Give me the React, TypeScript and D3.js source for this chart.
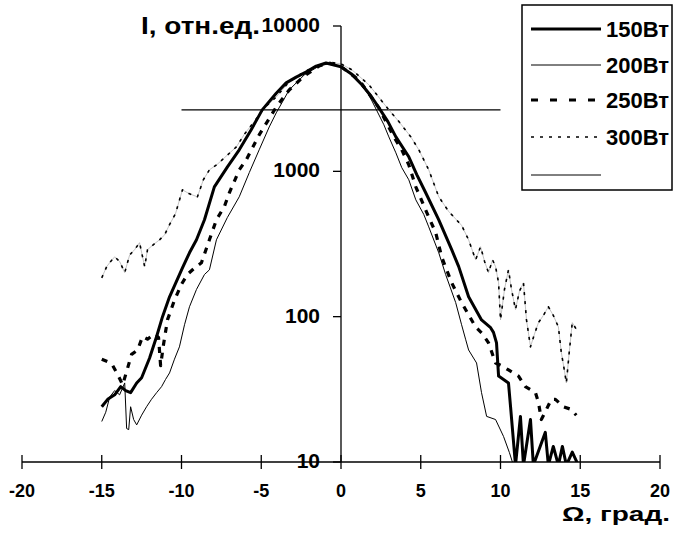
import React from 'react';
import * as d3 from 'd3';

// ---- data (Ω in degrees, I in relative units) ----
const xTicks = [-20, -15, -10, -5, 0, 5, 10, 15, 20];
const yTicks = [10, 100, 1000, 10000];
const legendLabels = ['150Вт', '200Вт', '250Вт', '300Вт', ''];
const halfLevel = 2650;
const halfRange = [-10, 10];

const s150: [number, number][] = [
  [-15, 24], [-14.63, 27], [-14.19, 29], [-13.81, 33], [-13.5, 31], [-13.19, 30], [-12.81, 35],
  [-12.5, 38], [-12.0, 52], [-11.56, 73], [-11.19, 100], [-10.75, 137], [-9.94, 217], [-9.5, 275],
  [-9.06, 338], [-8.56, 464], [-7.94, 782], [-7.13, 1070], [-6.38, 1406], [-5.63, 1930],
  [-4.94, 2647], [-4.06, 3450], [-3.44, 4060], [-2.81, 4450], [-2.19, 4820], [-1.56, 5300],
  [-0.94, 5570], [0, 5250], [0.63, 4700], [1.31, 3940], [1.88, 3300], [2.38, 2730], [2.94, 2200],
  [3.44, 1726], [4.25, 1259], [4.75, 950], [5.31, 712], [6.13, 464], [6.94, 289], [7.38, 221],
  [8.0, 137], [8.81, 95], [9.38, 84], [9.56, 78], [9.75, 66], [9.88, 39], [10.19, 37], [10.5, 35],
  [10.63, 24], [10.94, 9.5], [11.25, 20.6], [11.44, 9.5], [11.88, 19.6], [12.06, 9.5], [12.81, 16],
  [13.0, 9.5], [13.31, 12.8], [13.63, 9.5], [13.88, 12.8], [14.13, 9.5], [14.5, 11.7], [14.88, 9.5],
];

const s200: [number, number][] = [
  [-15, 19], [-14.75, 22], [-14.5, 28], [-14.19, 31], [-13.88, 29], [-13.56, 35], [-13.44, 17],
  [-13.31, 16.7], [-13.19, 24], [-13.0, 19.6], [-12.81, 18], [-12.5, 21], [-12.19, 24], [-11.88, 27],
  [-11.56, 30], [-11.25, 33], [-11.0, 37], [-10.75, 41], [-10.44, 51], [-10.13, 62], [-9.81, 88],
  [-9.5, 117], [-9.06, 154], [-8.56, 195], [-8.25, 210], [-7.81, 338], [-7.13, 480], [-6.38, 668],
  [-5.75, 980], [-5.13, 1406], [-4.5, 2020], [-4.06, 2525], [-3.25, 3630], [-2.31, 4600],
  [-1.38, 5300], [-0.75, 5500], [0, 5250], [0.81, 4530], [1.75, 3360], [2.69, 2090], [3.0, 1726],
  [3.44, 1341], [3.81, 1060], [4.25, 875], [4.69, 637], [5.19, 505], [5.5, 415], [6.13, 275],
  [6.56, 195], [7.19, 125], [7.56, 88], [7.81, 70], [8.0, 59], [8.5, 48], [8.81, 30], [9.13, 20.6],
  [9.69, 19.6], [10.19, 15], [10.56, 11.6], [10.81, 9.5],
];

const s250: [number, number][] = [
  [-15, 51], [-14.63, 49], [-14.31, 46], [-14.0, 40], [-13.69, 34], [-13.44, 42], [-13.13, 55],
  [-12.75, 59], [-12.44, 73], [-12.13, 70], [-11.69, 76], [-11.44, 72], [-11.31, 46], [-11.13, 64],
  [-10.88, 95], [-10.44, 130], [-10.0, 167], [-9.63, 195], [-9.19, 216], [-8.75, 235], [-8.25, 338],
  [-7.81, 464], [-7.31, 573], [-7.0, 712], [-6.38, 1024], [-5.94, 1200], [-5.13, 1780],
  [-4.06, 2770], [-3.25, 3630], [-2.31, 4530], [-1.38, 5300], [-0.75, 5570], [0, 5250],
  [1.13, 4258], [2.38, 2730], [3.31, 1726], [3.81, 1406], [4.25, 1110], [4.69, 782], [5.38, 519],
  [5.94, 378], [6.31, 258], [6.94, 171], [7.56, 125], [8.0, 103], [8.44, 85], [8.88, 76], [9.25, 66],
  [9.69, 48], [10.06, 46], [10.5, 43], [11.13, 39], [11.56, 33], [12.19, 30], [12.38, 25.7],
  [12.56, 19.6], [12.88, 23], [13.19, 27], [13.44, 27], [13.94, 24], [14.44, 23], [14.75, 21],
];

const s300: [number, number][] = [
  [-15, 185], [-14.69, 221], [-14.44, 240], [-14.19, 258], [-13.88, 240], [-13.56, 201],
  [-13.25, 266], [-12.94, 289], [-12.63, 323], [-12.31, 221], [-12.13, 289], [-11.81, 310],
  [-11.38, 338], [-11.06, 365], [-10.75, 430], [-10.38, 510], [-9.94, 746], [-9.5, 700], [-9.0, 668],
  [-8.63, 875], [-8.25, 1024], [-7.75, 1120], [-7.31, 1240], [-6.56, 1473], [-6.06, 1800],
  [-5.44, 2200], [-4.81, 2730], [-4.06, 3250], [-3.25, 4130], [-2.31, 4850], [-1.38, 5380],
  [-0.75, 5650], [0, 5480], [0.69, 4990], [1.75, 3940], [3.0, 2647], [3.63, 2200], [4.38, 1726],
  [4.88, 1406], [5.5, 1024], [6.13, 668], [6.75, 530], [7.56, 425], [8.0, 338], [8.44, 246],
  [8.75, 303], [9.0, 240], [9.25, 201], [9.5, 246], [9.69, 221], [9.88, 171], [10.0, 95],
  [10.25, 154], [10.5, 210], [10.69, 154], [10.94, 112], [11.19, 150], [11.44, 171], [11.63, 95],
  [11.88, 62], [12.13, 76], [12.38, 91], [12.69, 102], [13.0, 117], [13.31, 102], [13.63, 85],
  [13.81, 57], [14.0, 43], [14.13, 35], [14.31, 57], [14.5, 91], [14.75, 82],
];

const FONT = '"Liberation Sans", Arial, sans-serif';

export default function App() {
  const W = 674, H = 535;
  const x = d3.scaleLinear().domain([-20, 20]).range([22, 660]);
  const y = d3.scaleLog().domain([10, 10000]).range([462, 26]);
  const line = d3.line<[number, number]>().x(d => x(d[0])).y(d => y(d[1]));

  const styles = [
    { w: 3.2, dash: undefined as string | undefined },
    { w: 1, dash: undefined },
    { w: 3.2, dash: '7,12' },
    { w: 1.6, dash: '3,6' },
    { w: 1, dash: undefined },
  ];
  const legendY = [29, 65, 100, 137, 175];

  return (
    <svg width={W} height={H} style={{ position: 'absolute', left: 0, top: 0, background: '#fff' }}>
      <defs>
        <clipPath id="plot">
          <rect x={x(-20)} y={0} width={x(20) - x(-20)} height={y(10)} />
        </clipPath>
      </defs>
      <rect x={0} y={0} width={W} height={H} fill="#fff" />

      {/* half-level line */}
      <line x1={x(halfRange[0])} x2={x(halfRange[1])} y1={y(halfLevel)} y2={y(halfLevel)} stroke="#000" strokeWidth={1.3} />

      <g clipPath="url(#plot)" fill="none" strokeLinejoin="round">
        <path d={line(s300) || ''} stroke="#9a9a9a" strokeWidth={0.6} />
        <path d={line(s300) || ''} stroke="#000" strokeWidth={1.6} strokeDasharray="3,6" />
        <path d={line(s200) || ''} stroke="#000" strokeWidth={1} />
        <path d={line(s250) || ''} stroke="#000" strokeWidth={3.2} strokeDasharray="6,7" />
        <path d={line(s150) || ''} stroke="#000" strokeWidth={3} />
      </g>

      {/* x axis */}
      <line x1={x(-20)} x2={x(20)} y1={y(10)} y2={y(10)} stroke="#000" strokeWidth={1.3} />
      {xTicks.map(t => (
        <g key={t}>
          <line x1={x(t)} x2={x(t)} y1={y(10) - 7} y2={y(10) + 7} stroke="#000" strokeWidth={1.3} />
          <text x={x(t)} y={497} textAnchor="middle" fontFamily={FONT} fontWeight="bold" fontSize={18}>{t}</text>
        </g>
      ))}
      <text x={562} y={521} textLength={108} lengthAdjust="spacingAndGlyphs" fontFamily={FONT} fontWeight="bold" fontSize={21}>Ω, град.</text>

      {/* y axis */}
      <line x1={x(0)} x2={x(0)} y1={y(10000)} y2={y(10)} stroke="#000" strokeWidth={1.3} />
      {yTicks.map(t => (
        <g key={t}>
          <line x1={x(0) - 8} x2={x(0)} y1={y(t)} y2={y(t)} stroke="#000" strokeWidth={1.3} />
          <text x={320} y={y(t) + 6} textAnchor="end" fontFamily={FONT} fontWeight="bold" fontSize={21}>{t}</text>
        </g>
      ))}
      <text x={141} y={34} textLength={119} lengthAdjust="spacingAndGlyphs" fontFamily={FONT} fontWeight="bold" fontSize={23}>I, отн.ед.</text>

      {/* legend */}
      <rect x={522} y={5} width={150} height={185} fill="#fff" stroke="#000" strokeWidth={1.5} />
      {legendLabels.map((lab, i) => (
        <g key={i}>
          <line x1={531} x2={601} y1={legendY[i]} y2={legendY[i]} stroke="#000" strokeWidth={styles[i].w} strokeDasharray={styles[i].dash} />
          {lab && (
            <text x={606} y={legendY[i] + 8} fontFamily={FONT} fontWeight="bold" fontSize={22}>{lab}</text>
          )}
        </g>
      ))}
    </svg>
  );
}
